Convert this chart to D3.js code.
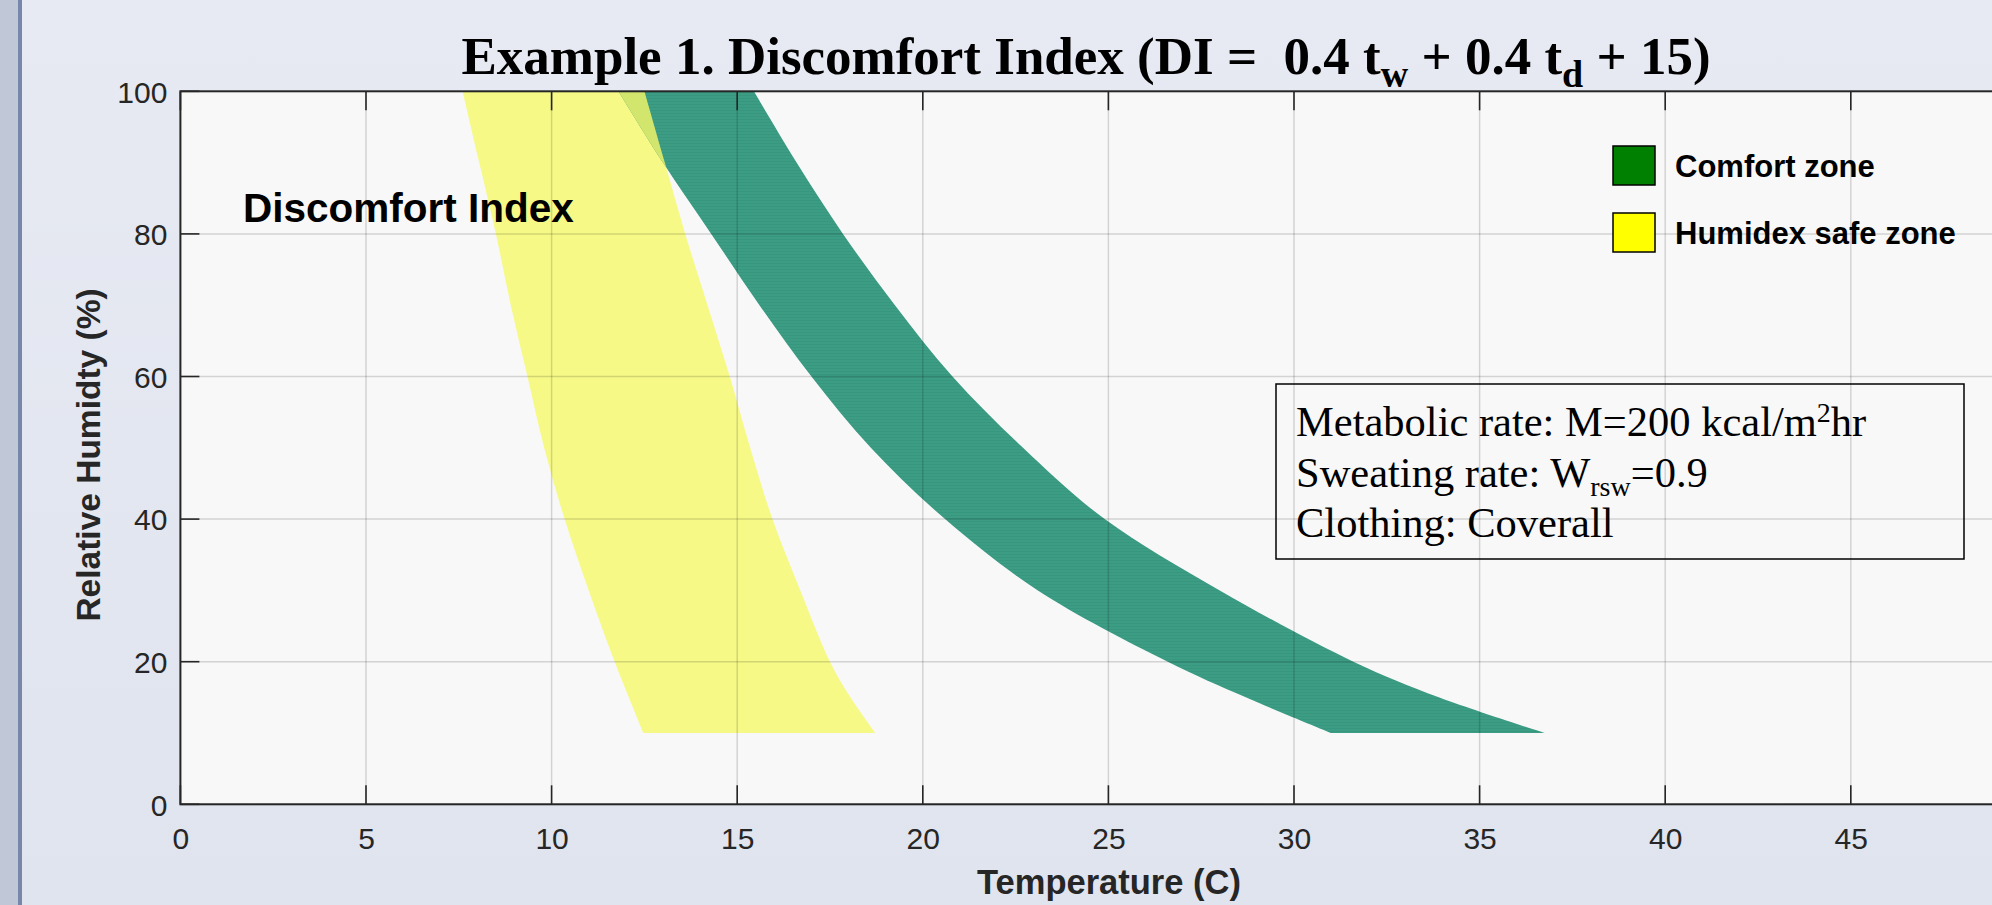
<!DOCTYPE html>
<html>
<head>
<meta charset="utf-8">
<script src="https://cdn.jsdelivr.net/npm/d3@7"></script>
<style>
  html, body { margin: 0; padding: 0; overflow: hidden; }
  text { font-family: "Liberation Sans", Arial, Helvetica, sans-serif; }
  .serif { font-family: "Liberation Serif", "Times New Roman", serif; }
</style>
</head>
<body>
<div id="chart"></div>
<script>
// relative humidity levels (%) where the zone edges were read
var rhLevels = [100, 90, 80, 70, 60, 50, 40, 30, 20, 15, 10];
// humidex safe zone, left and right edge temperature (C)
var humidexLeft = [7.6, 8.05, 8.5, 8.9, 9.35, 9.8, 10.35, 11.0, 11.7, 12.08, 12.47];
var humidexRight = [12.5, 13.05, 13.6, 14.2, 14.8, 15.35, 15.95, 16.7, 17.5, 18.05, 18.72];
// comfort zone, left and right edge temperature (C)
var comfortLeft = [11.8, 13.0, 14.3, 15.6, 17.0, 18.6, 20.6, 23.1, 26.6, 28.7, 31.0];
var comfortRight = [15.45, 16.6, 17.85, 19.25, 20.8, 22.7, 24.9, 28.0, 31.6, 33.9, 36.75];

var xTicks = [0, 5, 10, 15, 20, 25, 30, 35, 40, 45];
var yTicks = [0, 20, 40, 60, 80, 100];
var legendLabels = ["Comfort zone", "Humidex safe zone"];
var legendColors = ["#008000", "#ffff00"];

var W = 1992, H = 905;
var margin = { top: 91.3, left: 180.4, bottom: 804.3 };

var x = d3.scaleLinear().domain([0, 50]).range([margin.left, margin.left + 50 * 37.12]);
var y = d3.scaleLinear().domain([0, 100]).range([margin.bottom, margin.top]);

var svg = d3.select("#chart").append("svg")
    .attr("width", W)
    .attr("height", H);

var defs = svg.append("defs");
var grad = defs.append("linearGradient")
    .attr("id", "bg")
    .attr("x1", 0).attr("y1", 0).attr("x2", 0).attr("y2", 1);
grad.append("stop").attr("offset", "0%").attr("stop-color", "#e7eaf3");
grad.append("stop").attr("offset", "100%").attr("stop-color", "#e0e4ee");

defs.append("clipPath").attr("id", "plot")
  .append("rect")
    .attr("x", x(0)).attr("y", y(100))
    .attr("width", x(50) - x(0)).attr("height", y(0) - y(100));

// figure background and the window strip on the left
svg.append("rect").attr("width", W).attr("height", H).attr("fill", "url(#bg)");
svg.append("rect").attr("x", 0).attr("y", 0).attr("width", 18).attr("height", H).attr("fill", "#c0c7d6");
svg.append("rect").attr("x", 18).attr("y", 0).attr("width", 4).attr("height", H).attr("fill", "#7787aa");

// axes background
svg.append("rect")
    .attr("x", x(0)).attr("y", y(100))
    .attr("width", x(50) - x(0)).attr("height", y(0) - y(100))
    .attr("fill", "#f8f8f8");

var zone = function (left, right) {
    var pts = rhLevels.map(function (d, i) { return { rh: d, l: left[i], r: right[i] }; });
    return d3.area()
        .y(function (d) { return y(d.rh); })
        .x0(function (d) { return x(d.l); })
        .x1(function (d) { return x(d.r); })
        .curve(d3.curveCatmullRom.alpha(0.5))(pts);
};

var humidexPath = zone(humidexLeft, humidexRight);
var comfortPath = zone(comfortLeft, comfortRight);

defs.append("clipPath").attr("id", "comfortClip")
  .append("path").attr("d", comfortPath);

var stripes = defs.append("pattern")
    .attr("id", "stripes")
    .attr("patternUnits", "userSpaceOnUse")
    .attr("width", 8).attr("height", 3);
stripes.append("rect").attr("width", 8).attr("height", 3).attr("fill", "#3c9d84");
stripes.append("rect").attr("y", 2).attr("width", 8).attr("height", 1).attr("fill", "#37967e");

var plot = svg.append("g").attr("clip-path", "url(#plot)");

plot.append("path").attr("d", humidexPath).attr("fill", "#f6f986");
plot.append("path").attr("d", comfortPath).attr("fill", "url(#stripes)");
plot.append("g").attr("clip-path", "url(#comfortClip)")
  .append("path").attr("d", humidexPath).attr("fill", "#d2e56c");

// grid
plot.selectAll(".gx")
    .data(xTicks)
    .enter()
    .append("line")
    .attr("x1", function (d) { return x(d); })
    .attr("x2", function (d) { return x(d); })
    .attr("y1", y(0))
    .attr("y2", y(100))
    .attr("stroke", "#000")
    .attr("stroke-opacity", 0.15)
    .attr("stroke-width", 1.5);

plot.selectAll(".gy")
    .data(yTicks)
    .enter()
    .append("line")
    .attr("x1", x(0))
    .attr("x2", x(50))
    .attr("y1", function (d) { return y(d); })
    .attr("y2", function (d) { return y(d); })
    .attr("stroke", "#000")
    .attr("stroke-opacity", 0.15)
    .attr("stroke-width", 1.5);

// axes box and ticks
var axisColor = "#262626";
var xAxis = d3.axisBottom(x).tickValues(xTicks).tickSize(0).tickPadding(0).tickFormat(d3.format("d"));
var yAxis = d3.axisLeft(y).tickValues(yTicks).tickSize(0).tickPadding(0).tickFormat(d3.format("d"));

var gx = svg.append("g").attr("transform", "translate(0," + y(0) + ")").call(xAxis);
gx.select(".domain").remove();
gx.selectAll("text")
    .attr("y", 45)
    .attr("dy", 0)
    .attr("fill", axisColor)
    .style("font-size", "30px");

var gy = svg.append("g").attr("transform", "translate(" + (x(0) - 13) + ",0)").call(yAxis);
gy.select(".domain").remove();
gy.selectAll("text")
    .attr("x", 0)
    .attr("dy", "0.36em")
    .attr("fill", axisColor)
    .style("font-size", "30px");

var ticks = svg.append("g").attr("stroke", axisColor).attr("stroke-width", 1.6);
ticks.selectAll(".tb")
    .data(xTicks)
    .enter()
    .append("line")
    .attr("x1", function (d) { return x(d); })
    .attr("x2", function (d) { return x(d); })
    .attr("y1", y(0))
    .attr("y2", y(0) - 19);
ticks.selectAll(".tt")
    .data(xTicks)
    .enter()
    .append("line")
    .attr("x1", function (d) { return x(d); })
    .attr("x2", function (d) { return x(d); })
    .attr("y1", y(100))
    .attr("y2", y(100) + 19);
ticks.selectAll(".tl")
    .data(yTicks)
    .enter()
    .append("line")
    .attr("x1", x(0))
    .attr("x2", x(0) + 19)
    .attr("y1", function (d) { return y(d); })
    .attr("y2", function (d) { return y(d); });

svg.append("rect")
    .attr("x", x(0)).attr("y", y(100))
    .attr("width", x(50) - x(0)).attr("height", y(0) - y(100))
    .attr("fill", "none")
    .attr("stroke", axisColor)
    .attr("stroke-width", 2);

// axis labels
svg.append("text")
    .attr("x", 1109)
    .attr("y", 894)
    .attr("text-anchor", "middle")
    .attr("fill", axisColor)
    .style("font-size", "34.5px")
    .style("font-weight", "bold")
    .text("Temperature (C)");

svg.append("text")
    .attr("transform", "translate(100,455) rotate(-90)")
    .attr("text-anchor", "middle")
    .attr("fill", axisColor)
    .style("font-size", "33.5px")
    .style("font-weight", "bold")
    .text("Relative Humidty (%)");

// title
var title = svg.append("text")
    .attr("class", "serif")
    .attr("x", 1086)
    .attr("y", 74)
    .attr("text-anchor", "middle")
    .style("font-size", "53px")
    .style("font-weight", "bold")
    .style("white-space", "pre");
title.append("tspan").text("Example 1. Discomfort Index (DI =  0.4 t");
title.append("tspan").attr("dy", 13).style("font-size", "38px").text("w");
title.append("tspan").attr("dy", -13).text(" + 0.4 t");
title.append("tspan").attr("dy", 13).style("font-size", "38px").text("d");
title.append("tspan").attr("dy", -13).text(" + 15)");

svg.append("text")
    .attr("x", 243)
    .attr("y", 222)
    .style("font-size", "40.5px")
    .style("font-weight", "bold")
    .text("Discomfort Index");

// legend
var legend = svg.selectAll(".legend")
    .data(legendLabels)
    .enter()
    .append("g")
    .attr("transform", function (d, i) { return "translate(1613," + (146 + i * 67) + ")"; });
legend.append("rect")
    .attr("width", 42)
    .attr("height", 39)
    .attr("fill", function (d, i) { return legendColors[i]; })
    .attr("stroke", "#000")
    .attr("stroke-width", 1.5);
legend.append("text")
    .attr("x", 62)
    .attr("y", 31)
    .style("font-size", "31px")
    .style("font-weight", "bold")
    .text(function (d) { return d; });

// info box
svg.append("rect")
    .attr("x", 1276).attr("y", 384)
    .attr("width", 688).attr("height", 175)
    .attr("fill", "none")
    .attr("stroke", "#000")
    .attr("stroke-width", 1.5);

var info = svg.append("g").attr("class", "serif").style("font-size", "42.5px");
var l1 = info.append("text").attr("class", "serif").attr("x", 1296).attr("y", 436);
l1.append("tspan").text("Metabolic rate: M=200 kcal/m");
l1.append("tspan").attr("dy", -14).style("font-size", "28px").text("2");
l1.append("tspan").attr("dy", 14).text("hr");
var l2 = info.append("text").attr("class", "serif").attr("x", 1296).attr("y", 487);
l2.append("tspan").text("Sweating rate: W");
l2.append("tspan").attr("dy", 9).style("font-size", "28px").text("rsw");
l2.append("tspan").attr("dy", -9).text("=0.9");
info.append("text").attr("class", "serif").attr("x", 1296).attr("y", 537).text("Clothing: Coverall");
</script>
</body>
</html>
